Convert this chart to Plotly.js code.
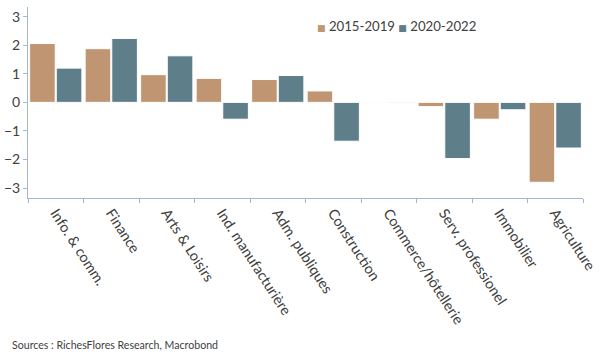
<!DOCTYPE html>
<html><head><meta charset="utf-8">
<script src="https://cdn.plot.ly/plotly-3.0.1.min.js"></script>
<style>html,body{margin:0;padding:0;background:#fff}#c{width:600px;height:360px}</style>
</head><body><div id="c"></div>
<script>
const categories = ["Info. & comm.","Finance","Arts & Loisirs","Ind. manufacturière","Adm. publiques","Construction","Commerce/hôtellerie","Serv. professionel","Immobilier","Agriculture"];
const series1Name = "2015-2019";
const series1 = [2.06,1.88,0.97,0.84,0.80,0.40,-0.02,-0.15,-0.59,-2.80];
const series2Name = "2020-2022";
const series2 = [1.20,2.24,1.63,-0.59,0.94,-1.36,0.03,-1.97,-0.26,-1.60];
const yTicks = [-3,-2,-1,0,1,2,3];

const font = "Lato, sans-serif";
const c1 = "#C09672", c2 = "#5E7E8A";
const data = [
  {type:"bar", name:series1Name, x:categories, y:series1, marker:{color:c1, line:{color:"#ffffff", width:1}}},
  {type:"bar", name:series2Name, x:categories, y:series2, marker:{color:c2, line:{color:"#ffffff", width:1}}}
];
const sq = (c) => '<span style="color:' + c + ';font-family:DejaVu Sans;font-size:9px">■</span>';
const legendText = sq(c1) + ' ' + series1Name + ' ' + sq(c2) + ' ' + series2Name;
const layout = {
  width:600, height:360,
  margin:{l:28, r:17, t:7, b:162},
  paper_bgcolor:"#fff", plot_bgcolor:"#fff",
  barmode:"group", bargap:0.04, bargroupgap:0.04,
  font:{family:font, color:"#595959", size:12},
  showlegend:false,
  xaxis:{type:"category", tickangle:57, showline:true, linecolor:"#A6B8CE", linewidth:1,
    ticks:"outside", tickson:"boundaries", ticklen:4, tickcolor:"#A6B8CE",
    showgrid:false, zeroline:false, tickfont:{family:font, size:14.4, color:"#404040"}},
  yaxis:{range:[-3.35,3.34], tickvals:yTicks, showline:true, linecolor:"#A6B8CE", linewidth:1,
    ticks:"outside", ticklen:4, tickcolor:"#A6B8CE", showgrid:false, zeroline:false,
    tickfont:{family:font, size:14, color:"#404040"}},
  annotations:[
    {text:legendText, xref:"paper", yref:"paper", x:0.517, y:0.90, xanchor:"left", yanchor:"middle",
     showarrow:false, font:{family:font, size:13.2, color:"#404040"}},
    {text:"Sources : RichesFlores Research, Macrobond", xref:"paper", yref:"paper",
    x:-0.0324, y:-0.77, xanchor:"left", yanchor:"middle", showarrow:false,
    font:{family:font, size:10.6, color:"#404040"}}]
};
Plotly.newPlot("c", data, layout, {displayModeBar:false, staticPlot:true});
</script></body></html>
